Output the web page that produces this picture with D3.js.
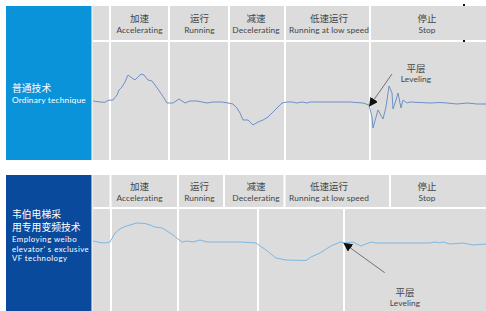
<!DOCTYPE html>
<html>
<head>
<meta charset="utf-8">
<script src="https://cdn.jsdelivr.net/npm/d3@7"></script>
<style>
  body { margin: 0; background: #fff; }
  text { font-family: Lato, "Noto Sans", "Noto Sans CJK SC", sans-serif; }
  .zh { font-family: "Noto Sans CJK SC", sans-serif; }
</style>
</head>
<body>
<div id="chart"></div>
<script>
  // phases of a lift run
  var phaseZh = ["加速", "运行", "减速", "低速运行", "停止"];
  var phaseEn = ["Accelerating", "Running", "Decelerating", "Running at low speed", "Stop"];
  var phaseLabelT = [46.5, 106.5, 163, 236, 334];

  // phase boundaries (time units) for each panel
  var topBounds = [17, 76, 136, 192, 277];
  var botHeadBounds = [17.5, 85, 131, 191.5, 297];
  var botBodyBounds = [18, 85, 165, 251];

  // vibration traces: [time, amplitude]
  var ordinary = [
    [0,1],[7,0],[12,-0.3],[15,1.7],[20,2],[24,7],[26,12],[29,15],[32,20],[35,27],
    [39,24],[42,22],[45,25],[48,28],[51,27],[55,22],[59,21],[62,17],[67,10],[71,4],
    [74,-1],[80,-1],[86,3],[92,-1],[97,1],[104,1],[114,-1],[120,0],[129,0],[135,-1],
    [140,-2],[144,-6],[147,-11],[150,-18],[155,-18],[160,-23],[165,-20],[170,-18],[175,-15],[184,-6],
    [189,-1],[194,0],[199,0],[204,-1],[209,0],[214,-1],[217,0],[237,0],[257,0],[270,-1],
    [276,-3],[279,-15],[280,-26],[285,-8],[290,-17],[293,-5],[296,16],[299,9],[300,-7],[303,2],
    [305,9],[308,-6],[310,2],[314,-1],[317,0],[337,-1],[347,-0.5],[354,-1],[364,-2],[374,-1],
    [384,-2],[393,-2]
  ];
  var weibo = [
    [0,1],[7,-0.5],[12,-1],[17,0],[22,9],[27,13],[32,15.5],[37,17],[44,19],[52,18.5],
    [57,17],[62,15],[69,14],[74,11],[80,7],[85,3],[89,0],[94,1],[100,0],[107,2],
    [114,0],[130,0],[147,0],[163,-1],[173,-8],[183,-16],[193,-18],[213,-18.5],[218,-15],[227,-11],
    [237,-4.5],[247,0],[252,-1],[260,0],[268,-4],[278,0],[283,-1],[300,-1],[337,-1],[342,0],
    [347,-1],[350,0],[357,-2],[370,-1],[380,-3],[393,-2]
  ];

  var width = 486, height = 311;
  var svg = d3.select("#chart").append("svg")
    .attr("width", width)
    .attr("height", height);

  svg.append("defs").append("marker")
    .attr("id", "arrow")
    .attr("viewBox", "0 0 10 10")
    .attr("refX", 9).attr("refY", 5)
    .attr("markerWidth", 9).attr("markerHeight", 9)
    .attr("markerUnits", "userSpaceOnUse")
    .attr("orient", "auto")
    .append("path")
    .attr("d", "M0,0 L10,5 L0,10 Z")
    .attr("fill", "#111");

  var x = d3.scaleLinear().domain([0, 393]).range([93, 486]);

  var panels = [
    { top: 6, headBottom: 40, bottom: 160, boxColor: "#0b93da", lineColor: "#6f90c6",
      headBounds: topBounds, bodyBounds: topBounds, data: ordinary,
      y: d3.scaleLinear().domain([-60, 60]).range([162, 42]),
      boxText: [
        { t: "普通技术", y: 92, zh: true },
        { t: "Ordinary technique", y: 103, size: 8.3, sp: 0.2 }
      ],
      arrow: { from: [299, 28], to: [276.5, -4] },
      note: { t: 323, zhV: 30.5, enV: 20 } },
    { top: 175, headBottom: 207, bottom: 311, boxColor: "#0a4a9c", lineColor: "#7db7e2",
      headBounds: botHeadBounds, bodyBounds: botBodyBounds, data: weibo,
      y: d3.scaleLinear().domain([-60, 60]).range([302, 182]),
      boxText: [
        { t: "韦伯电梯采", y: 218, zh: true },
        { t: "用专用变频技术", y: 231, zh: true },
        { t: "Employing weibo", y: 242, size: 7.8, sp: 0.45 },
        { t: "elevator’ s exclusive", y: 251.6, size: 7.8, sp: 0.45 },
        { t: "VF technology", y: 261.2, size: 7.8, sp: 0.45 }
      ],
      arrow: { from: [291.7, -30.7], to: [251, -1.3] },
      note: { t: 312, zhV: -53.5, enV: -64 } }
  ];

  panels.forEach(function (p) {
    var g = svg.append("g");

    // blue label box
    g.append("rect")
      .attr("x", 6).attr("y", p.top)
      .attr("width", 85.5).attr("height", p.bottom - p.top)
      .attr("fill", p.boxColor);

    g.selectAll(".boxtext")
      .data(p.boxText)
      .enter().append("text")
      .attr("class", function (d) { return d.zh ? "zh" : null; })
      .attr("x", 12)
      .attr("y", function (d) { return d.y; })
      .attr("fill", "#fff")
      .attr("font-size", function (d) { return d.zh ? 9.8 : d.size; })
      .attr("letter-spacing", function (d) { return d.zh ? 0 : d.sp; })
      .text(function (d) { return d.t; });

    // gray plot area
    g.append("rect")
      .attr("x", x(0) - 0.5).attr("y", p.top)
      .attr("width", width - x(0) + 0.5).attr("height", p.bottom - p.top)
      .attr("fill", "#dcdcdc");

    // header / body separator
    g.append("rect")
      .attr("x", x(0)).attr("y", p.headBottom)
      .attr("width", width - x(0)).attr("height", 2)
      .attr("fill", "#fff");

    g.selectAll(".hdiv")
      .data(p.headBounds)
      .enter().append("rect")
      .attr("x", function (d) { return x(d) - 1; })
      .attr("y", p.top)
      .attr("width", 2).attr("height", p.headBottom - p.top)
      .attr("fill", "#fff");

    g.selectAll(".bdiv")
      .data(p.bodyBounds)
      .enter().append("rect")
      .attr("x", function (d) { return x(d) - 1; })
      .attr("y", p.headBottom)
      .attr("width", 2).attr("height", p.bottom - p.headBottom)
      .attr("fill", "#fff");

    // phase labels
    var hMid = (p.top + p.headBottom) / 2;
    g.selectAll(".pzh")
      .data(phaseZh)
      .enter().append("text")
      .attr("class", "zh")
      .attr("x", function (d, i) { return x(phaseLabelT[i]); })
      .attr("y", hMid - 1.5)
      .attr("text-anchor", "middle")
      .attr("font-size", 9.5)
      .attr("fill", "#444")
      .text(function (d) { return d; });

    g.selectAll(".pen")
      .data(phaseEn)
      .enter().append("text")
      .attr("x", function (d, i) { return x(phaseLabelT[i]); })
      .attr("y", hMid + 10)
      .attr("text-anchor", "middle")
      .attr("font-size", 8.3)
      .attr("letter-spacing", 0.1)
      .attr("fill", "#444")
      .text(function (d) { return d; });

    // trace
    var line = d3.line()
      .x(function (d) { return x(d[0]); })
      .y(function (d) { return p.y(d[1]); });

    g.append("path")
      .datum(p.data)
      .attr("d", line)
      .attr("fill", "none")
      .attr("stroke", p.lineColor)
      .attr("stroke-width", 1);

    // leveling annotation
    g.append("line")
      .attr("x1", x(p.arrow.from[0])).attr("y1", p.y(p.arrow.from[1]))
      .attr("x2", x(p.arrow.to[0])).attr("y2", p.y(p.arrow.to[1]))
      .attr("stroke", "#444")
      .attr("stroke-width", 0.7)
      .attr("marker-end", "url(#arrow)");

    g.append("text")
      .attr("class", "zh")
      .attr("x", x(p.note.t)).attr("y", p.y(p.note.zhV))
      .attr("text-anchor", "middle")
      .attr("font-size", 9.5)
      .attr("fill", "#444")
      .text("平层");

    g.append("text")
      .attr("x", x(p.note.t)).attr("y", p.y(p.note.enV))
      .attr("text-anchor", "middle")
      .attr("font-size", 8.3)
      .attr("letter-spacing", 0.1)
      .attr("fill", "#444")
      .text("Leveling");
  });

  // two small specks at the top right
  svg.selectAll(".speck")
    .data([5, 41])
    .enter().append("rect")
    .attr("x", 463).attr("y", function (d) { return d - 1; })
    .attr("width", 2).attr("height", 2)
    .attr("fill", "#111");
</script>
</body>
</html>
